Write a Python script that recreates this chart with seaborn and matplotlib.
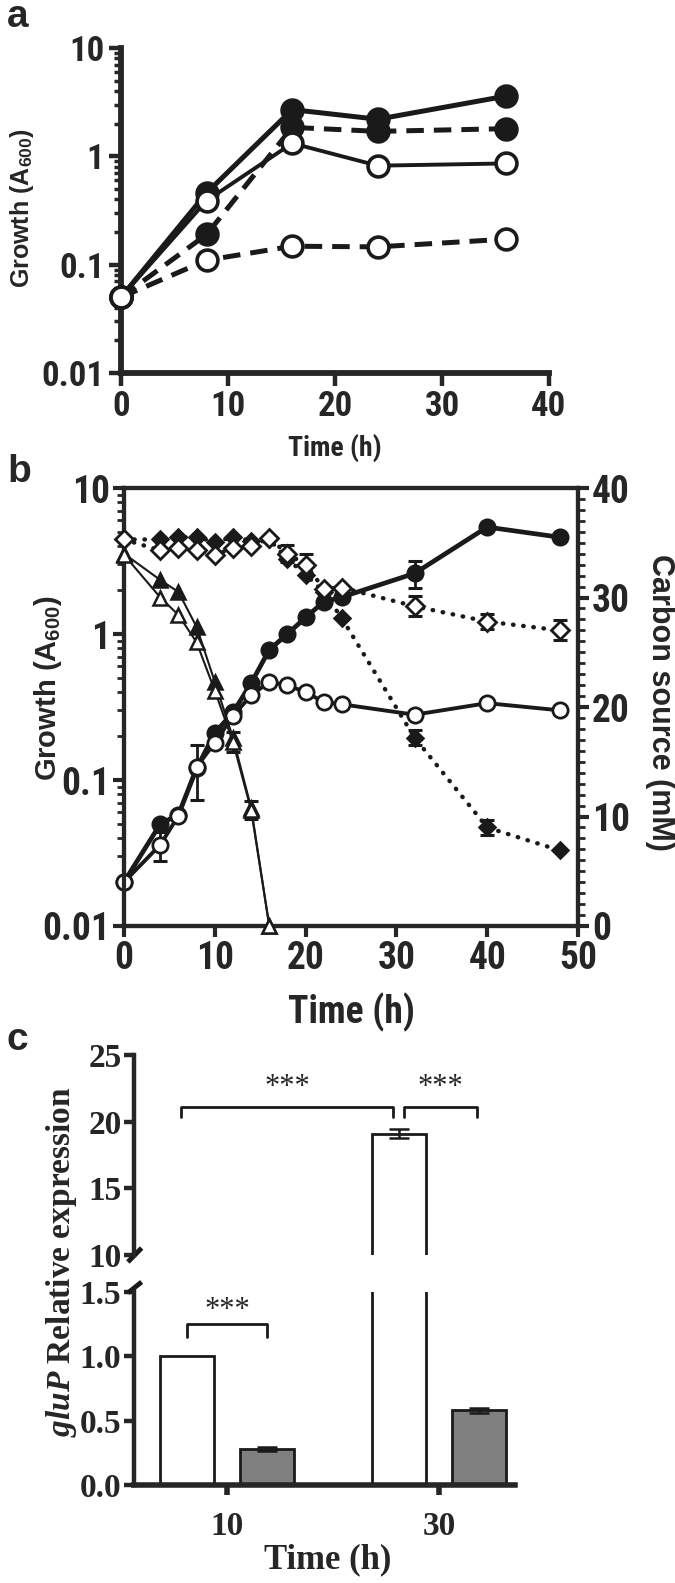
import numpy as np
import pandas as pd
import matplotlib
matplotlib.use("Agg")
import matplotlib.pyplot as plt
import seaborn as sns
from matplotlib import font_manager
from matplotlib.ticker import LogLocator, NullFormatter, FixedLocator, MultipleLocator

# ---------------- data ----------------
# panel a
A_TIME = [0, 8, 16, 24, 36]
A_FILLED_SOLID = [0.05, 0.46, 2.7, 2.2, 3.6]
A_FILLED_DASHED = [0.05, 0.19, 1.85, 1.7, 1.8]
A_OPEN_SOLID = [0.05, 0.39, 1.32, 0.82, 0.86]
A_OPEN_DASHED = [0.05, 0.11, 0.148, 0.146, 0.172]
A_XTICKS = [0, 10, 20, 30, 40]
A_YTICKS = [0.01, 0.1, 1, 10]
A_YTICKLABELS = ["0.01", "0.1", "1", "10"]

# panel b
B_TIME = [0, 4, 6, 8, 10, 12, 14, 16, 18, 20, 22, 24, 32, 40, 48]
B_FILLED_CIRCLE = [0.02, 0.05, 0.058, 0.12, 0.21, 0.29, 0.46, 0.78, 1.0, 1.3, 1.66, 1.79, 2.6, 5.4, 4.6]
B_FILLED_CIRCLE_ERR = [0, 0, 0, 0, 0, 0, 0, 0, 0, 0, 0, 0, 0.55, 0, 0]
B_OPEN_CIRCLE = [0.02, 0.036, 0.057, 0.123, 0.18, 0.275, 0.38, 0.47, 0.445, 0.40, 0.342, 0.33, 0.28, 0.336, 0.30]
B_OPEN_CIRCLE_ERR = [0, 0.008, 0, 0.05, 0, 0, 0, 0, 0, 0, 0, 0, 0, 0, 0]
B_TRI_TIME = [0, 4, 6, 8, 10, 12, 14, 16]
B_FILLED_TRI = [34.0, 31.6, 30.5, 27.3, 22.3, 17.2, 10.8, 0]
B_OPEN_TRI = [33.9, 30.0, 28.4, 25.9, 21.5, 16.8, 10.6, 0]
B_OPEN_TRI_ERR = [0, 0, 0, 0, 0, 0.9, 0.8, 0]
B_FILLED_DIAMOND = [35.3, 35.3, 35.5, 35.5, 35.1, 35.5, 35.2, 35.3, 33.5, 32.1, 30.5, 28.1, 17.2, 9.0, 6.9]
B_FILLED_DIAMOND_ERR = [0, 0, 0, 0, 0, 0, 0, 0, 0, 0, 0, 0, 0.7, 0.7, 0]
B_OPEN_DIAMOND = [35.3, 34.3, 34.5, 34.3, 33.9, 34.5, 34.7, 35.4, 34.0, 33.0, 30.8, 30.9, 29.2, 27.8, 27.0]
B_OPEN_DIAMOND_ERR = [0, 0, 0, 0, 0, 0, 0, 0, 0.8, 1.0, 0, 0, 0.9, 0.7, 0.9]
B_XTICKS = [0, 10, 20, 30, 40, 50]
B_YTICKS = [0.01, 0.1, 1, 10]
B_YTICKLABELS = ["0.01", "0.1", "1", "10"]
B_Y2TICKS = [0, 10, 20, 30, 40]

# panel c
C_TIMES = ["10", "30"]
C_GROUPS = ["control", "treated"]
C_VALUES_CONTROL = [1.0, 19.1]
C_VALUES_TREATED = [0.28, 0.58]
C_ERR_CONTROL = [0.0, 0.35]
C_ERR_TREATED = [0.015, 0.02]
C_UPPER_TICKS = [10, 15, 20, 25]
C_LOWER_TICKS = [0.0, 0.5, 1.0, 1.5]
C_LOWER_TICKLABELS = ["0.0", "0.5", "1.0", "1.5"]
C_STARS = "***"

# ---------------- style ----------------
sns.set_theme(style="ticks")

_names = {f.name for f in font_manager.fontManager.ttflist}
_cond = [n for n in ["Liberation Sans Narrow", "DejaVu Sans Condensed", "Roboto Condensed",
                     "Open Sans Condensed"] if n in _names]
COND = _cond + ["Liberation Sans", "DejaVu Sans"]
SANS = ["Liberation Sans", "DejaVu Sans"]
SERIF = ["Liberation Serif", "DejaVu Serif"]
plt.rcParams["font.family"] = COND
plt.rcParams["font.weight"] = "bold"
plt.rcParams["mathtext.fontset"] = "custom"
plt.rcParams["mathtext.rm"] = "Liberation Sans:bold"
plt.rcParams["mathtext.it"] = "Liberation Serif:italic:bold"
plt.rcParams["mathtext.bf"] = "Liberation Serif:bold"

W, H = 675, 1583
fig = plt.figure(figsize=(W / 100, H / 100), dpi=100)
fig.patch.set_facecolor("white")


def rect(l, t, r, b):
    return [l / W, 1 - b / H, (r - l) / W, (b - t) / H]


def fx(px):
    return px / W


def fy(py):
    return 1 - py / H


# ================= panel a =================
axa = fig.add_axes(rect(121, 48, 549, 373))
axa.set_yscale("log")
series_a = [
    (A_FILLED_SOLID, "k", "-", 3.6),
    (A_FILLED_DASHED, "k", (0, (3.5, 2)), 3.6),
    (A_OPEN_SOLID, "white", "-", 2.8),
    (A_OPEN_DASHED, "white", (0, (3.5, 2)), 3.6),
]
for vals, face, ls, lw in series_a:
    sns.lineplot(x=A_TIME, y=vals, ax=axa, color="k", estimator=None,
                 linestyle=ls, lw=lw, marker="o", markersize=15,
                 markerfacecolor=face, markeredgecolor="k", markeredgewidth=2.6,
                 clip_on=False, zorder=3)
axa.set_xlim(0, 40)
axa.set_ylim(0.01, 10)
axa.set_xticks(A_XTICKS)
axa.set_xticklabels([str(t) for t in A_XTICKS])
axa.yaxis.set_major_locator(FixedLocator(A_YTICKS))
axa.set_yticklabels(A_YTICKLABELS)
axa.yaxis.set_minor_locator(LogLocator(base=10, subs=np.arange(2, 10)))
axa.yaxis.set_minor_formatter(NullFormatter())
for s in ["top", "right"]:
    axa.spines[s].set_visible(False)
for s in ["left", "bottom"]:
    axa.spines[s].set_linewidth(4.2)
axa.tick_params(which="major", direction="out", length=9, width=3.2, labelsize=25, pad=3)
axa.tick_params(which="minor", direction="out", length=5, width=2.5)
axa.tick_params(axis="x", which="minor", length=0)
axa.set_xlabel("Time (h)", fontsize=20, fontweight="bold")
axa.xaxis.label.set_va("center")
axa.xaxis.set_label_coords(fx(335), fy(448), transform=fig.transFigure)
axa.set_ylabel(r"Growth ($\mathrm{A}_{\mathrm{600}}$)", fontsize=18, fontweight="bold", family=SANS)
axa.yaxis.label.set_va("center")
axa.yaxis.set_label_coords(fx(22), fy(208), transform=fig.transFigure)
for lab in axa.get_xticklabels() + axa.get_yticklabels():
    lab.set_fontweight("bold")

# ================= panel b =================
axb = fig.add_axes(rect(124, 488, 578, 926))
axb.set_yscale("log")
axb2 = axb.twinx()

sns.lineplot(x=B_TIME, y=B_FILLED_CIRCLE, ax=axb, color="k", estimator=None,
             lw=3.4, marker="o", markersize=11, markerfacecolor="k",
             markeredgecolor="k", markeredgewidth=2, clip_on=False, zorder=3)
sns.lineplot(x=B_TIME, y=B_OPEN_CIRCLE, ax=axb, color="k", estimator=None,
             lw=2.8, marker="o", markersize=11, markerfacecolor="white",
             markeredgecolor="k", markeredgewidth=2, clip_on=False, zorder=4)


def errbars(ax, x, y, e, z=2):
    idx = [i for i, v in enumerate(e) if v > 0]
    if idx:
        ax.errorbar([x[i] for i in idx], [y[i] for i in idx], yerr=[e[i] for i in idx],
                    fmt="none", ecolor="k", elinewidth=2, capsize=5, capthick=2.2, zorder=z)


errbars(axb, B_TIME, B_FILLED_CIRCLE, B_FILLED_CIRCLE_ERR)
errbars(axb, B_TIME, B_OPEN_CIRCLE, B_OPEN_CIRCLE_ERR)

sns.lineplot(x=B_TRI_TIME, y=B_FILLED_TRI, ax=axb2, color="k", estimator=None,
             lw=1.5, marker="^", markersize=10, markerfacecolor="k",
             markeredgecolor="k", markeredgewidth=1.8, clip_on=False, zorder=3)
sns.lineplot(x=B_TRI_TIME, y=B_OPEN_TRI, ax=axb2, color="k", estimator=None,
             lw=1.5, marker="^", markersize=10, markerfacecolor="white",
             markeredgecolor="k", markeredgewidth=1.8, clip_on=False, zorder=4)
sns.lineplot(x=B_TIME, y=B_FILLED_DIAMOND, ax=axb2, color="k", estimator=None,
             lw=3.2, linestyle=(0, (0.1, 2.2)), dash_capstyle="round",
             marker="D", markersize=8, markerfacecolor="k",
             markeredgecolor="k", markeredgewidth=1.8, clip_on=False, zorder=3)
sns.lineplot(x=B_TIME, y=B_OPEN_DIAMOND, ax=axb2, color="k", estimator=None,
             lw=3.2, linestyle=(0, (0.1, 2.2)), dash_capstyle="round",
             marker="D", markersize=9, markerfacecolor="white",
             markeredgecolor="k", markeredgewidth=2, clip_on=False, zorder=4)
errbars(axb2, B_TRI_TIME, B_OPEN_TRI, B_OPEN_TRI_ERR)
errbars(axb2, B_TIME, B_FILLED_DIAMOND, B_FILLED_DIAMOND_ERR)
errbars(axb2, B_TIME, B_OPEN_DIAMOND, B_OPEN_DIAMOND_ERR)

axb.set_xlim(0, 50)
axb.set_ylim(0.01, 10)
axb2.set_ylim(0, 40)
axb.set_xticks(B_XTICKS)
axb.set_xticklabels([str(t) for t in B_XTICKS])
axb.yaxis.set_major_locator(FixedLocator(B_YTICKS))
axb.set_yticklabels(B_YTICKLABELS)
axb.yaxis.set_minor_locator(LogLocator(base=10, subs=np.arange(2, 10)))
axb.yaxis.set_minor_formatter(NullFormatter())
axb2.set_yticks(B_Y2TICKS)
axb2.set_yticklabels([str(t) for t in B_Y2TICKS])
axb2.yaxis.set_minor_locator(MultipleLocator(1))
for ax in (axb, axb2):
    for s in ax.spines.values():
        s.set_linewidth(3)
    ax.tick_params(which="major", direction="out", length=8, width=3, labelsize=27, pad=2)
    ax.tick_params(which="minor", direction="out", length=5, width=2)
axb.tick_params(axis="x", which="minor", length=0)
axb.set_xlabel("Time (h)", fontsize=27, fontweight="bold")
axb.xaxis.label.set_va("center")
axb.xaxis.set_label_coords(fx(351), fy(1012), transform=fig.transFigure)
axb.set_ylabel(r"Growth ($\mathrm{A}_{\mathrm{600}}$)", fontsize=21, fontweight="bold", family=SANS)
axb.yaxis.label.set_va("center")
axb.yaxis.set_label_coords(fx(48), fy(688), transform=fig.transFigure)
axb2.set_ylabel("Carbon source (mM)", fontsize=22, fontweight="bold", rotation=270, family=SANS)
axb2.yaxis.label.set_va("center")
axb2.yaxis.set_label_coords(fx(660), fy(702), transform=fig.transFigure)
for lab in axb.get_xticklabels() + axb.get_yticklabels() + axb2.get_yticklabels():
    lab.set_fontweight("bold")

# ================= panel c =================
dfc = pd.DataFrame({
    "time": C_TIMES * 2,
    "group": [C_GROUPS[0]] * 2 + [C_GROUPS[1]] * 2,
    "value": C_VALUES_CONTROL + C_VALUES_TREATED,
    "err": C_ERR_CONTROL + C_ERR_TREATED,
})
palette = {C_GROUPS[0]: "white", C_GROUPS[1]: "#808080"}

axc_top = fig.add_axes(rect(134, 1055, 515, 1255))
axc_bot = fig.add_axes(rect(134, 1292, 515, 1485))
centers = None
for ax in (axc_top, axc_bot):
    sns.barplot(data=dfc, x="time", y="value", hue="group", order=C_TIMES,
                hue_order=C_GROUPS, palette=palette, width=0.76, gap=0.33,
                edgecolor="k", linewidth=2, errorbar=None, legend=False, ax=ax,
                saturation=1)
    bars = sorted(ax.patches, key=lambda p: p.get_x())
    cx = [p.get_x() + p.get_width() / 2 for p in bars]
    tops = [p.get_height() for p in bars]
    order_err = []
    for t in C_TIMES:
        for g in C_GROUPS:
            order_err.append(float(dfc[(dfc.time == t) & (dfc.group == g)]["err"].iloc[0]))
    idx = [i for i, e in enumerate(order_err) if e > 0]
    ax.errorbar([cx[i] for i in idx], [tops[i] for i in idx], yerr=[order_err[i] for i in idx],
                fmt="none", ecolor="k", elinewidth=1.8, capsize=7, capthick=1.8, zorder=5)
    ax.set_xlim(-0.439, 1.358)
    ax.set_xlabel("")
    ax.set_ylabel("")
    centers = cx
    for s in ["top", "right"]:
        ax.spines[s].set_visible(False)
    ax.spines["left"].set_linewidth(3.2)
    ax.spines["bottom"].set_linewidth(4)
    ax.tick_params(which="major", direction="out", length=7, width=3.2, labelsize=24, pad=2)
    ax.set_facecolor("none")

axc_top.set_ylim(10, 25)
axc_top.set_yticks(C_UPPER_TICKS)
axc_top.set_yticklabels([str(t) for t in C_UPPER_TICKS])
axc_top.spines["bottom"].set_visible(False)
axc_top.tick_params(axis="x", length=0, labelbottom=False)

axc_bot.set_ylim(0, 1.5)
axc_bot.set_yticks(C_LOWER_TICKS)
axc_bot.set_yticklabels(C_LOWER_TICKLABELS)
axc_bot.set_xticks(range(len(C_TIMES)))
axc_bot.set_xticklabels(C_TIMES)
axc_bot.tick_params(axis="x", length=7, width=4, pad=12)

for ax in (axc_top, axc_bot):
    for lab in ax.get_xticklabels() + ax.get_yticklabels():
        lab.set_family(SERIF)
        lab.set_fontweight("bold")

axc_top.plot([0.02, -0.016], [0.035, -0.035], transform=axc_top.transAxes,
             color="k", lw=3.5, clip_on=False, solid_capstyle="butt")
axc_bot.plot([0.02, -0.016], [1.052, 0.995], transform=axc_bot.transAxes,
             color="k", lw=3.5, clip_on=False, solid_capstyle="butt")


def bracket(ax, x1, x2, y, leg, text, ty):
    ax.plot([x1, x1, x2, x2], [y - leg, y, y, y - leg], color="k", lw=2, clip_on=False)
    ax.text((x1 + x2) / 2, ty, text, ha="center", va="center", fontsize=22,
            family=SERIF, fontweight="normal")


bracket(axc_top, centers[0] - 0.027, centers[2] - 0.027, 21.1, 0.75, C_STARS, 22.6)
bracket(axc_top, centers[2] + 0.025, centers[3] - 0.01, 21.1, 0.75, C_STARS, 22.6)
bracket(axc_bot, centers[0], centers[1], 1.25, 0.1, C_STARS, 1.36)

axc_bot.set_xlabel("Time (h)", fontsize=25, fontweight="bold", family=SERIF)
axc_bot.xaxis.label.set_va("center")
axc_bot.xaxis.set_label_coords(fx(328), fy(1560), transform=fig.transFigure)
fig.text(fx(62), fy(1262), r"$\mathit{gluP}$ Relative expression", rotation=90,
         ha="center", va="center", fontsize=24, family=SERIF, fontweight="bold")

LETTER_FONT = ["Liberation Sans", "DejaVu Sans"]
fig.text(fx(7), fy(17), "a", fontsize=28, fontweight="bold", family=LETTER_FONT, ha="left", va="center")
fig.text(fx(7), fy(472), "b", fontsize=28, fontweight="bold", family=LETTER_FONT, ha="left", va="center")
fig.text(fx(7), fy(1040), "c", fontsize=28, fontweight="bold", family=LETTER_FONT, ha="left", va="center")

fig.savefig("out.png", dpi=100, facecolor="white")
